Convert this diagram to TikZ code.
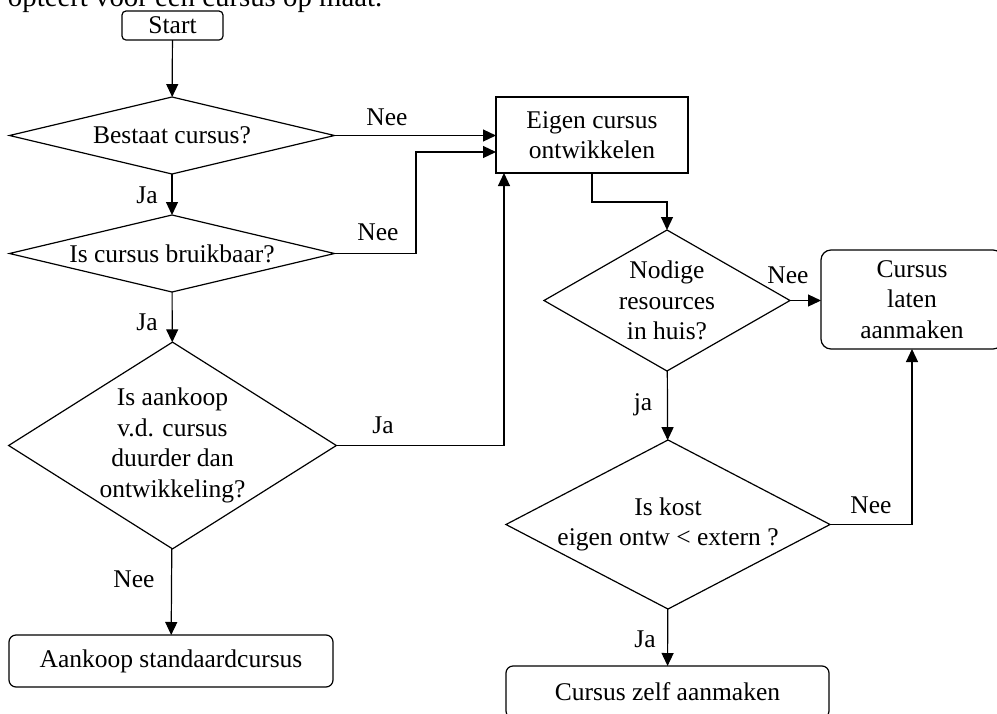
\documentclass[tikz,border=0pt]{standalone}
\usepackage{fontspec}
\setmainfont{Liberation Serif}
\usetikzlibrary{shapes.geometric,arrows.meta}
\begin{document}
\begin{tikzpicture}[x=1pt,y=-1pt,
  every node/.style={inner sep=0pt, outer sep=0pt, font=\fontsize{25.5}{30.5}\selectfont},
  line/.style={line width=1.2pt, draw=black},
  arr/.style={line, -{Triangle[length=13pt,width=12pt]}},
  dec/.style={diamond, draw, line width=1.2pt, align=center},
  proc/.style={rectangle, draw, line width=1.2pt, align=center},
  term/.style={proc, rounded corners=7pt},
  lbl/.style={anchor=base}
]
\useasboundingbox (0,0) rectangle (997,713);

% heading text (cut off at top)
\node[anchor=base west, font=\fontsize{28.8}{34}\selectfont] (head) at (8,6.5) {opteert voor een cursus op maat.};

% nodes
\node[term, rounded corners=4pt, minimum width=101pt, minimum height=29pt] (start) at (172.5,25.5) {Start};
\node[dec, minimum width=325pt, minimum height=77pt, aspect=4.2] (d1) at (172,135.5) {Bestaat cursus?};
\node[dec, minimum width=325pt, minimum height=77pt, aspect=4.2] (d2) at (172,253.5) {Is cursus bruikbaar?};
\node[dec, minimum width=325pt, minimum height=205pt, aspect=1.585] (d5) at (172.5,445.5) {Is aankoop\\v.d. cursus\\duurder dan\\ontwikkeling?};
\node[term, minimum width=324pt, minimum height=52pt] (aankoop) at (171,661) {Aankoop standaardcursus};

\node[proc, minimum width=192pt, minimum height=76pt] (eigen) at (592,135) {Eigen cursus\\ontwikkelen};
\node[dec, minimum width=246pt, minimum height=141pt, aspect=1.745] (d3) at (667,300.5) {Nodige\\resources\\in huis?};
\node[term, rounded corners=10pt, minimum width=182pt, minimum height=99pt] (laten) at (912,299.5) {Cursus\\laten\\aanmaken};
\node[dec, minimum width=324pt, minimum height=169pt, aspect=1.917] (d4) at (668,524.5) {Is kost\\eigen ontw < extern ?};
\node[term, minimum width=323pt, minimum height=52pt] (zelf) at (667.5,692) {Cursus zelf aanmaken};

% helper coordinates
\coordinate (k2) at (416,152);
\coordinate (k5) at (504,445.5);
\coordinate (k8) at (592,202);

% connectors
\draw[arr] (start) -- (d1);
\draw[arr] (d1.east) -- (d1.east -| eigen.west);
\draw[arr] (d1) -- (d2);
\draw[arr] (d2.east) -| (k2) -- (k2 -| eigen.west);
\draw[arr] (d2) -- (d5);
\draw[arr] (d5.east) -- (k5) -- (k5 |- eigen.south);
\draw[arr] (d5) -- (aankoop);
\draw[arr] (eigen.south) -- (k8) -| (d3.north);
\draw[arr] (d3.east) -- (d3.east -| laten.west);
\draw[arr] (d3) -- (d4);
\draw[arr] (d4.east) -| (laten.south);
\draw[arr] (d4) -- (zelf);

% connector labels
\node[lbl] (l1) at (387,125) {Nee};
\node[lbl] (l2) at (147,203) {Ja};
\node[lbl] (l3) at (378,240) {Nee};
\node[lbl] (l4) at (147,330) {Ja};
\node[lbl] (l5) at (383,433) {Ja};
\node[lbl] (l6) at (134,587) {Nee};
\node[lbl] (l7) at (788,283) {Nee};
\node[lbl] (l8) at (643,410) {ja};
\node[lbl] (l9) at (871,513) {Nee};
\node[lbl] (l10) at (645,647) {Ja};
\end{tikzpicture}
\end{document}
